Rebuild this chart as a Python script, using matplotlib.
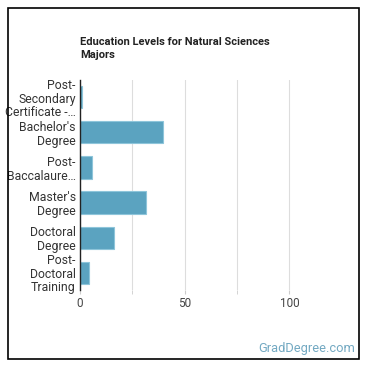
import matplotlib.pyplot as plt
from matplotlib.patches import Rectangle

categories = ["Post-\nSecondary\nCertificate -…", "Bachelor's\nDegree", "Post-\nBaccalaure…",
              "Master's\nDegree", "Doctoral\nDegree", "Post-\nDoctoral\nTraining"]
values = [1, 39.5, 6, 31.5, 16.5, 4.5]
major_ticks = [0, 50, 100]
minor_ticks = [25, 75]

plt.rcParams['font.family'] = ['Roboto', 'DejaVu Sans']

fig = plt.figure(figsize=(3.7, 3.7), dpi=100)
ax = fig.add_axes([0.216, 0.216, 0.708, 0.568])

pos = list(range(len(categories)))
ax.barh(pos, values, height=0.63, color='#5ba3c0', edgecolor='#8ec5da', linewidth=0.8, zorder=3)
ax.set_yticks(pos)
ax.set_yticklabels(categories, fontsize=8.8, color='#333333', linespacing=1.06)
ax.set_ylim(5.5, -0.5)
ax.set_xlim(0, 125)

ax.set_xticks(major_ticks)
ax.set_xticks(minor_ticks, minor=True)
ax.tick_params(axis='x', which='both', length=3, color='#cccccc', labelsize=8.5, labelcolor='#444444', pad=2)
ax.tick_params(axis='y', length=0, pad=3)
ax.grid(axis='x', which='both', color='#dddddd', linewidth=0.8, zorder=0)

for s in ['top', 'right', 'bottom']:
    ax.spines[s].set_visible(False)
ax.spines['left'].set_color('#222222')
ax.spines['left'].set_linewidth(1.0)
ax.spines['left'].set_zorder(4)

fig.text(0.216, 0.9, "Education Levels for Natural Sciences\nMajors", fontsize=8, fontweight='bold',
         color='#222222', ha='left', va='top', linespacing=1.4)
fig.text(0.96, 0.058, "GradDegree.com", fontsize=9.3, color='#73a9c2', ha='right', va='center')

fig.patches.append(Rectangle((0.0216, 0.0297), 0.9484, 0.948, transform=fig.transFigure,
                             fill=False, edgecolor='black', linewidth=1.2))

fig.savefig('out.png', dpi=100)
